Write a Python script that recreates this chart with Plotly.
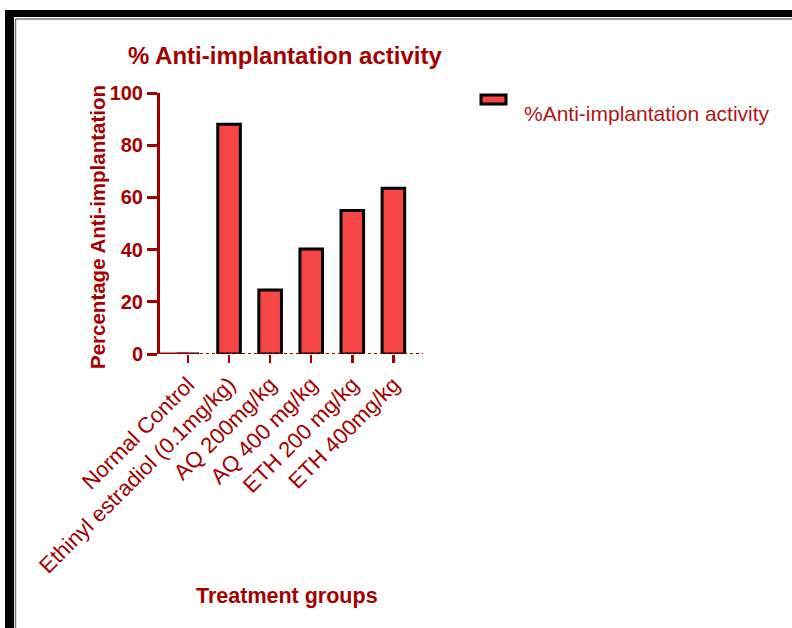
import plotly.graph_objects as go

categories = ["Normal Control", "Ethinyl estradiol (0.1mg/kg)", "AQ 200mg/kg",
              "AQ 400 mg/kg", "ETH 200 mg/kg", "ETH 400mg/kg"]
values = [0, 88, 24.5, 40.2, 55, 63.5]
y_ticks = [0, 20, 40, 60, 80, 100]
series_name = "%Anti-implantation activity"

W, H = 792, 628
L, R, T, B = 160, 423, 93, 354  # plot area in pixels

DARK = "#A30000"
FILL = "#F64646"


def px(x):
    return (x - L) / (R - L)


def py(y):
    return (B - y) / (B - T)


fig = go.Figure()
fig.add_trace(go.Bar(
    x=categories, y=values, width=0.55, name=series_name,
    marker=dict(color=FILL, line=dict(color="black", width=3)),
    showlegend=False, hoverinfo="skip",
))

shapes = []
# x-axis baseline: solid part then dotted part
shapes.append(dict(type="line", xref="x", yref="y", x0=-0.68, x1=0, y0=0, y1=0,
                   line=dict(color=DARK, width=3)))
shapes.append(dict(type="line", xref="x", yref="y", x0=0, x1=5.72, y0=0, y1=0,
                   line=dict(color=DARK, width=2, dash="dot")))
# outer frame (black band + thin gray line)
shapes.append(dict(type="rect", xref="paper", yref="paper", x0=px(5), x1=px(14),
                   y0=py(640), y1=py(10), fillcolor="black", line=dict(width=0), layer="above"))
shapes.append(dict(type="rect", xref="paper", yref="paper", x0=px(5), x1=px(800),
                   y0=py(17), y1=py(10), fillcolor="black", line=dict(width=0), layer="above"))
shapes.append(dict(type="line", xref="paper", yref="paper", x0=px(15.5), x1=px(15.5),
                   y0=py(19), y1=py(640), line=dict(color="#777777", width=1.5)))
shapes.append(dict(type="line", xref="paper", yref="paper", x0=px(15.5), x1=px(800),
                   y0=py(19), y1=py(19), line=dict(color="#777777", width=1.5)))
# legend symbol
shapes.append(dict(type="rect", xref="paper", yref="paper", x0=px(481), x1=px(506),
                   y0=py(104), y1=py(95), fillcolor=FILL, line=dict(color="black", width=3)))

annotations = [
    dict(text="<b>% Anti-implantation activity</b>", xref="paper", yref="paper",
         x=px(285), y=py(55), xanchor="center", yanchor="middle", showarrow=False,
         font=dict(family="Liberation Sans Narrow, Arial Narrow, Liberation Sans, Arial",
                   size=24, color=DARK)),
    dict(text="<b>Percentage Anti-implantation</b>", xref="paper", yref="paper",
         x=px(97), y=py(227), xanchor="center", yanchor="middle", showarrow=False,
         textangle=-90,
         font=dict(family="Liberation Sans, Arial", size=20.5, color=DARK)),
    dict(text="<b>Treatment groups</b>", xref="paper", yref="paper",
         x=px(287), y=py(596), xanchor="center", yanchor="middle", showarrow=False,
         font=dict(family="Liberation Sans Narrow, Arial Narrow, Liberation Sans, Arial",
                   size=21.5, color=DARK)),
    dict(text=series_name, xref="paper", yref="paper",
         x=px(522), y=py(113), xanchor="left", yanchor="middle", showarrow=False,
         font=dict(family="Liberation Sans, Arial", size=21, color="#B01515")),
]

fig.update_layout(
    width=W, height=H,
    margin=dict(l=L, r=W - R, t=T, b=H - B, pad=0),
    paper_bgcolor="white", plot_bgcolor="white",
    shapes=shapes, annotations=annotations,
    bargap=0.45, hovermode=False,
)
fig.update_xaxes(
    range=[-0.68, 5.72], showline=False, showgrid=False, zeroline=False,
    ticks="outside", ticklen=8, tickwidth=2.5, tickcolor=DARK,
    tickangle=-45,
    tickfont=dict(family="Liberation Sans, Arial", size=22, color=DARK),
)
fig.update_yaxes(
    range=[0, 100], tickvals=y_ticks, showline=True, linewidth=3, linecolor=DARK,
    showgrid=False, zeroline=False, ticks="outside", ticklen=10, tickwidth=3,
    tickcolor=DARK,
    tickfont=dict(family="Liberation Sans, Arial", size=20, color=DARK, weight="bold"),
)

fig.write_html(
    "out.html",
    config={"displayModeBar": False, "staticPlot": True},
    post_script="document.body.style.margin='0';document.body.style.padding='0';"
                "document.body.style.overflow='hidden';",
)
